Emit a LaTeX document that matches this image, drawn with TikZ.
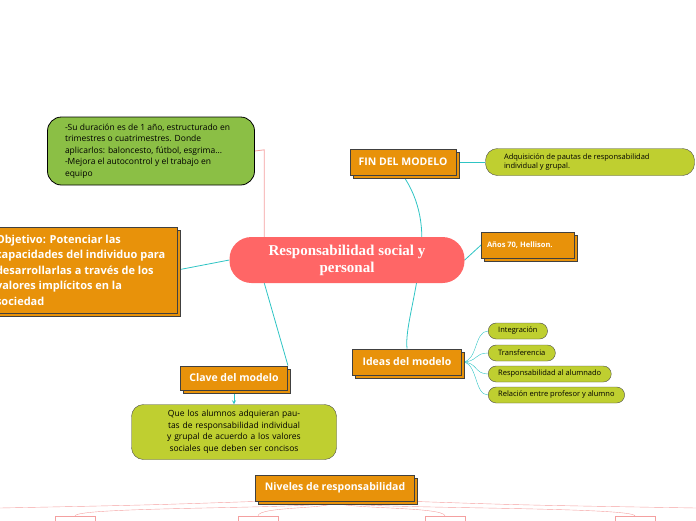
\documentclass[tikz,border=0pt]{standalone}
\usepackage{fontspec}
\setmainfont{Open Sans}
\newfontfamily\titlefont{Liberation Serif}
\usetikzlibrary{positioning,shadows,backgrounds}
\definecolor{orangebox}{HTML}{E8920A}
\definecolor{greenbox}{HTML}{8BBF45}
\definecolor{limebox}{HTML}{BFCF30}
\definecolor{redmain}{HTML}{FF6666}
\definecolor{tealline}{HTML}{2EC4C4}
\definecolor{pinkline}{HTML}{F4A0A0}
\tikzset{
  topic/.style={draw=black!75, line width=0.9pt, fill=orangebox, text=white, font=\bfseries,
    inner sep=4pt, copy shadow={shadow xshift=3pt, shadow yshift=-3pt, draw=black!75, fill=orangebox}},
  pill/.style={draw=black!70, fill=limebox, rounded corners=8pt, font=\fontsize{7.5}{9.5}\selectfont, inner sep=3pt},
  link/.style={tealline, thick},
  pinklink/.style={pinkline, thin}
}
\begin{document}
\begin{tikzpicture}[x=1pt,y=-1pt]
\useasboundingbox (0,0) rectangle (696,520);
\clip (0,0) rectangle (696,520);
% central topic
\node[fill=redmain, rounded corners=22pt, minimum width=235pt, minimum height=46pt, text=white,
  align=center, font=\titlefont\bfseries\fontsize{15}{17}\selectfont] (main) at (347,260)
  {Responsabilidad social y\\ personal};
% left branch
\node[draw=black, line width=0.8pt, fill=greenbox, rounded corners=14pt, minimum width=207pt, minimum height=68pt,
  text width=172pt, align=flush left, font=\fontsize{8.5}{11.5}\selectfont] (dur) at (151,151)
  {-Su duración es de 1 año, estructurado en trimestres o cuatrimestres. Donde aplicarlos: baloncesto, fútbol, esgrima...\\
   -Mejora el autocontrol y el trabajo en equipo};
\node[topic, minimum width=190pt, minimum height=86pt, text width=172pt, align=flush left,
  font=\bfseries\fontsize{11}{15.5}\selectfont] (obj) at (82,270)
  {Objetivo: Potenciar las capacidades del individuo para desarrollarlas a través de los valores implícitos en la sociedad};
\node[topic, minimum width=107pt, minimum height=24pt, font=\bfseries\fontsize{10.5}{12}\selectfont] (clave) at (234,378) {Clave del modelo};
\node[pill, rounded corners=12pt, minimum width=205pt, minimum height=55pt, text width=172pt,
  align=center, font=\fontsize{8.5}{11.5}\selectfont] (que) at (234,432)
  {Que los alumnos adquieran pautas de responsabilidad individual y grupal de acuerdo a los valores sociales que deben ser concisos};
% right branch
\node[topic, minimum width=106pt, minimum height=26pt, font=\bfseries\fontsize{10.5}{12}\selectfont] (fin) at (403,162) {FIN DEL MODELO};
\node[pill, minimum width=209pt, minimum height=27pt, text width=172pt, align=flush left, rounded corners=12pt] (adq) at (590,162)
  {Adquisición de pautas de responsabilidad individual y grupal.};
\node[topic, minimum width=93pt, minimum height=26pt, align=flush left, text width=82pt, font=\bfseries\fontsize{7.5}{9}\selectfont] (anos) at (528,245) {Años 70, Hellison.};
\node[topic, minimum width=109pt, minimum height=26pt, font=\bfseries\fontsize{10.5}{12}\selectfont] (ideas) at (407,362) {Ideas del modelo};
\node[pill, anchor=west, minimum height=16pt, inner xsep=10pt] (int) at (488,331) {Integración};
\node[pill, anchor=west, minimum height=16pt, inner xsep=10pt] (tra) at (488,353) {Transferencia};
\node[pill, anchor=west, minimum height=16pt, inner xsep=10pt] (res) at (488,374) {Responsabilidad al alumnado};
\node[pill, anchor=west, minimum height=16pt, inner xsep=10pt] (rel) at (488,395) {Relación entre profesor y alumno};
% bottom
\node[topic, minimum width=159pt, minimum height=26pt, font=\bfseries\fontsize{10.5}{12}\selectfont] (niv) at (335,488) {Niveles de responsabilidad};
\foreach \i/\x in {n1/75,n2/258,n3/445,n4/635}
  \node[draw=pinkline, minimum width=40pt, minimum height=12pt, anchor=north] (\i) at (\x,516) {};
% connectors
\begin{scope}[on background layer]
\draw[pinkline, thick] ([xshift=35pt]main.north west) -- ++(0,-87) -- (dur.east);
\draw[link] (main.west) -- (obj.east);
\draw[link] ([xshift=35pt]main.south west) -- (clave.north east);
\draw[link, ->, >=stealth] (clave.south) -- (que.north);
\draw[link] (fin.south) .. controls (420,200) and (425,230) .. (420,260) .. controls (415,300) and (405,330) .. (ideas.north);
\draw[link] (main.east) -- (anos.west);
\draw[link] (fin.east) -- (adq.west);
\foreach \t in {int,tra,res,rel}
  \draw[tealline] (ideas.east) .. controls ([xshift=16pt]ideas.east) and ([xshift=-14pt]\t.west) .. (\t.west);
\foreach \t in {n1,n2,n3,n4}
  \draw[pinklink] (niv.south) .. controls ([yshift=-8pt]niv.south) and ([yshift=10pt]\t.north) .. (\t.north);
\draw[pinklink] (niv.south west) .. controls (150,505) .. (0,508);
\draw[pinklink] (niv.south east) .. controls (520,505) .. (696,508);
\end{scope}
\end{tikzpicture}
\end{document}
